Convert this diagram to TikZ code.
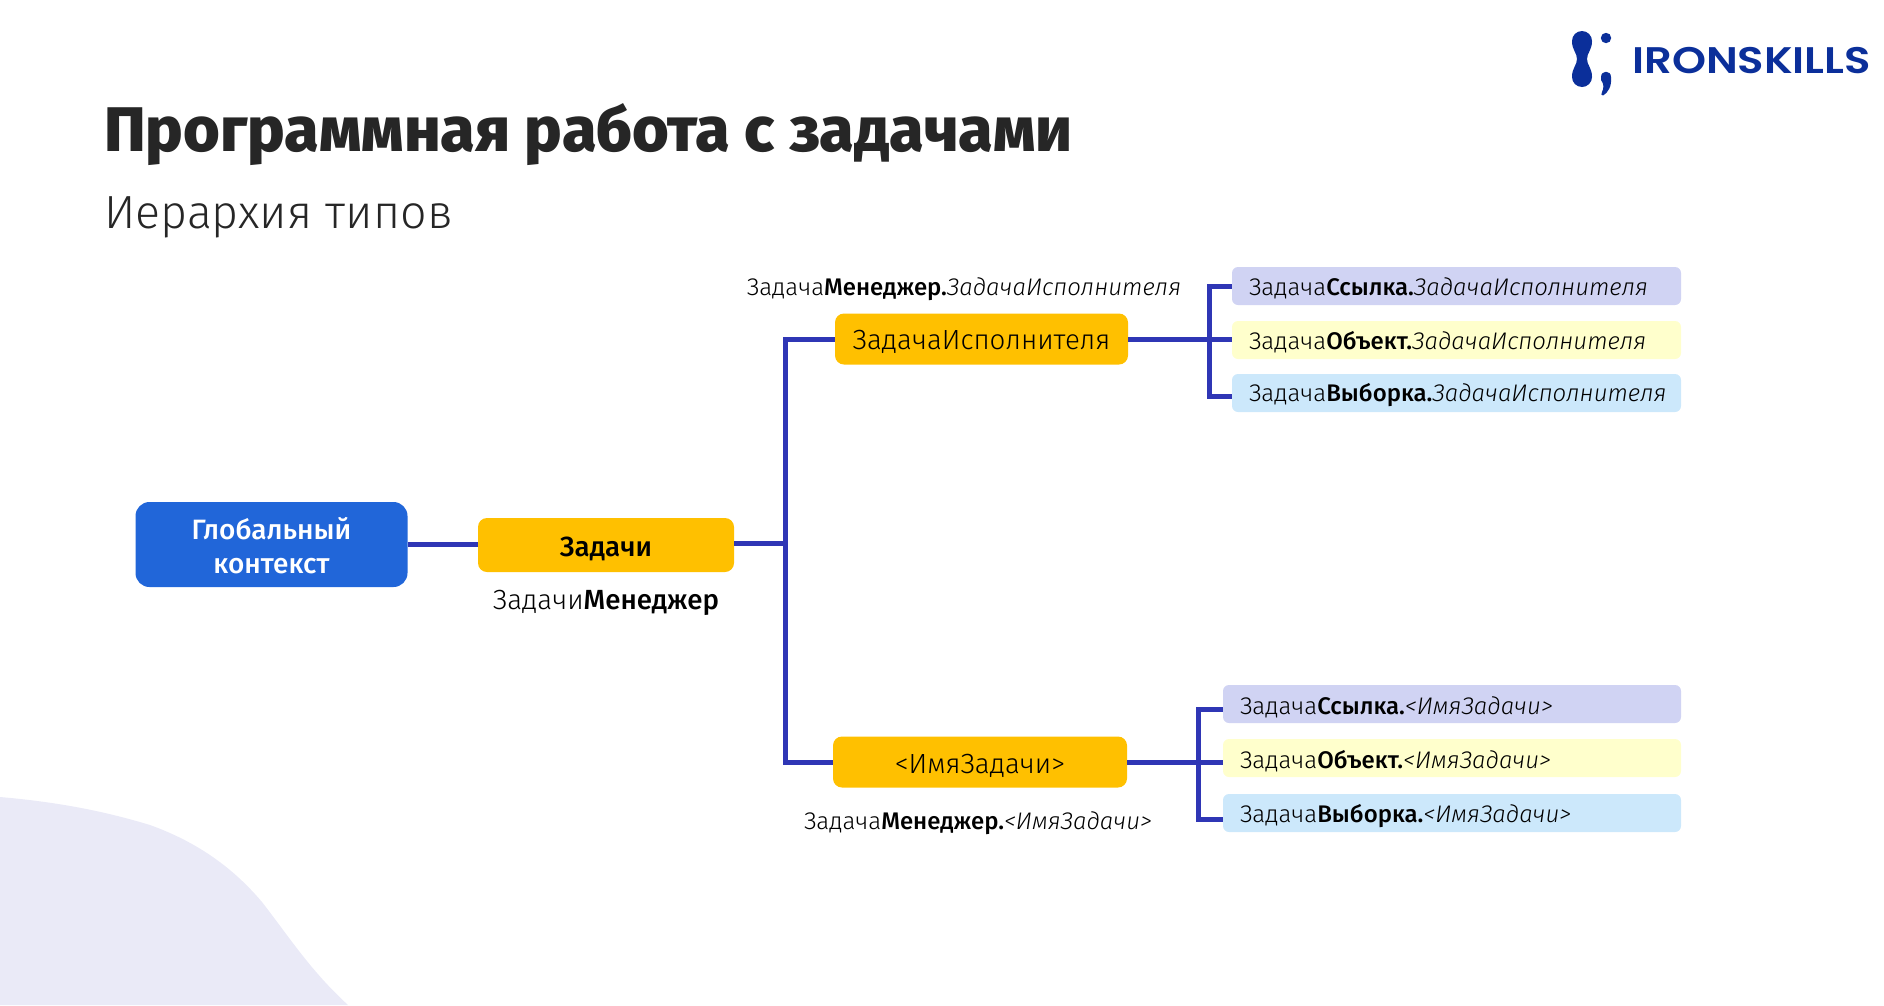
\documentclass[tikz,border=0pt]{standalone}
\usepackage{fontspec}
\setmainfont{Fira Sans}[UprightFont=* Light,ItalicFont=* Light Italic,BoldFont=* Medium]
\newfontfamily\titlefont{Fira Sans}[UprightFont=* ExtraBold]
\newfontfamily\subfont{Fira Sans}[UprightFont=* Light]
\newfontfamily\logofont{Poppins}[UprightFont=* SemiBold]
\definecolor{cBlue}{HTML}{2166D9}
\definecolor{cOrange}{HTML}{FFC000}
\definecolor{cLine}{HTML}{2F36B5}
\definecolor{cLav}{HTML}{D0D3F3}
\definecolor{cYel}{HTML}{FFFFCC}
\definecolor{cSky}{HTML}{CCE8FB}
\definecolor{cBlob}{HTML}{EAEAF7}
\definecolor{cLogo}{HTML}{0B2F9A}
\definecolor{cText}{HTML}{262626}
\newcommand\dn[2]{\raisebox{-#1pt}[\height][\depth]{#2}}
\tikzset{
  conn/.style={draw=cLine,line width=5pt},
  mainbox/.style={fill=cBlue,text=white,rounded corners=14pt,minimum width=272pt,minimum height=85pt,inner sep=0pt,align=center,font=\fontsize{28}{34}\selectfont\bfseries},
  orbox/.style={fill=cOrange,text=black,rounded corners=9pt,inner sep=0pt,minimum height=51pt,font=\fontsize{27.7}{32}\selectfont},
  leaf/.style={rounded corners=6pt,minimum height=38pt,inner sep=0pt,inner xsep=17pt,align=left,text=black,font=\fontsize{24}{28}\selectfont},
  caption/.style={inner sep=0pt,text=black,font=\fontsize{24}{28}\selectfont},
}
\begin{document}
\begin{tikzpicture}[x=1pt,y=-1pt]
\useasboundingbox (0,0) rectangle (1884,1005);
\fill[cBlob] (0,797) .. controls (70,803) and (117,815) .. (150,825) .. controls (200,843) and (235,870) .. (262,902) .. controls (290,938) and (310,970) .. (348,1005) -- (0,1005) -- cycle;
% title
\node[anchor=base west,inner sep=0pt,text=cText,font=\fontsize{63}{70}\selectfont\titlefont] (ttl) at (104,151) {Программная работа с задачами};
\node[anchor=base west,inner sep=0pt,text=cText,font=\fontsize{46.5}{54}\selectfont\subfont] (sub) at (104,228) {Иерархия типов};
% logo
\fill[cLogo] (1582,41) circle[radius=10];
\fill[cLogo] (1582,77) circle[radius=10];
\fill[cLogo] (1572,41) .. controls (1572,50) and (1577,53) .. (1577,59) .. controls (1577,65) and (1572,68) .. (1572,77) -- (1592,77) .. controls (1592,68) and (1587,65) .. (1587,59) .. controls (1587,53) and (1592,50) .. (1592,41) -- cycle;
\fill[cLogo] (1606,38) circle[radius=5.2];
\fill[cLogo] (1601,77) .. controls (1601,70) and (1611,70) .. (1611,77) .. controls (1612,86) and (1608,93) .. (1603,95.5) .. controls (1601,95.5) and (1601,94) .. (1602,92) .. controls (1604,88) and (1604,84) .. (1601,80) -- cycle;
\node[anchor=base west,inner sep=0pt,text=cLogo,xscale=1.17,transform shape,font=\fontsize{37}{40}\selectfont\logofont] (logo) at (1632,73) {IRONSKILLS};
% nodes
\node[mainbox] (glob) at (271.5,544.5) {\dn{1.5}{Глобальный}\\\dn{1.5}{контекст}};
\node[orbox,minimum width=256pt,minimum height=54pt] (zad) at (606,545) {\dn{3.5}{\textbf{Задачи}}};
\node[caption,font=\fontsize{27.7}{32}\selectfont] (zadm) at (606,603) {Задачи\textbf{Менеджер}};
\node[orbox,minimum width=293pt] (isp) at (981.5,339) {\dn{2.5}{ЗадачаИсполнителя}};
\node[caption] (ispm) at (964,289) {Задача\textbf{Менеджер.}\textit{ЗадачаИсполнителя}};
\node[orbox,minimum width=294pt] (imy) at (980,762) {\dn{3.5}{<ИмяЗадачи>}};
\node[caption] (imym) at (978,823) {Задача\textbf{Менеджер.}\textit{<ИмяЗадачи>}};
\node[leaf,fill=cLav,text width=415pt] (t1) at (1456.5,286) {\dn{2}{Задача\textbf{Ссылка.}\textit{ЗадачаИсполнителя}}};
\node[leaf,fill=cYel,text width=415pt] (t2) at (1456.5,340) {\dn{2}{Задача\textbf{Объект.}\textit{ЗадачаИсполнителя}}};
\node[leaf,fill=cSky,text width=415pt] (t3) at (1456.5,393) {\dn{2}{Задача\textbf{Выборка.}\textit{ЗадачаИсполнителя}}};
\node[leaf,fill=cLav,text width=424pt] (b1) at (1452,704) {\dn{3.5}{Задача\textbf{Ссылка.}\textit{<ИмяЗадачи>}}};
\node[leaf,fill=cYel,text width=424pt] (b2) at (1452,758) {\dn{3}{Задача\textbf{Объект.}\textit{<ИмяЗадачи>}}};
\node[leaf,fill=cSky,text width=424pt] (b3) at (1452,813) {\dn{3.5}{Задача\textbf{Выборка.}\textit{<ИмяЗадачи>}}};
% connectors
\coordinate (hub) at (785,543);
\coordinate (brt) at (1209,339);
\coordinate (brb) at (1198,762);
\draw[conn] (glob.east) -- (glob.east -| zad.west);
\draw[conn] ([yshift=2pt]zad.east) -- (hub);
\draw[conn] (isp.west) -- (isp.west -| hub) -- (imy.west -| hub) -- (imy.west);
\draw[conn] (isp.east) -- (isp.east -| t2.west);
\draw[conn] (t1.west) -- (t1.west -| brt) -- ([yshift=-3pt]t3.west -| brt) -- ([yshift=-3pt]t3.west);
\draw[conn] (imy.east) -- (imy.east -| b2.west);
\draw[conn] ([yshift=-5pt]b1.west) -- ([yshift=-5pt]b1.west -| brb) -- ([yshift=-6pt]b3.west -| brb) -- ([yshift=-6pt]b3.west);
\end{tikzpicture}
\end{document}
